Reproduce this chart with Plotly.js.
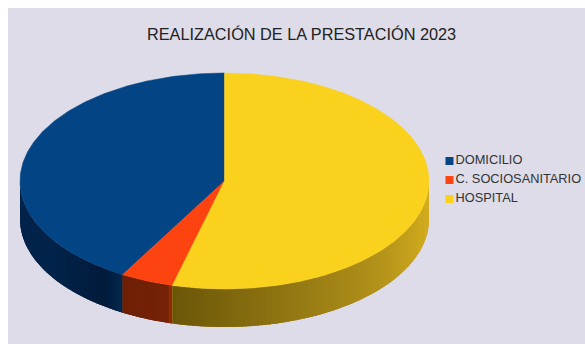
<!DOCTYPE html>
<html>
<head>
<meta charset="utf-8">
<script src="https://cdn.plot.ly/plotly-3.0.1.min.js"></script>
<style>html,body{margin:0;padding:0;background:#fff}</style>
</head>
<body>
<div id="chart" style="width:585px;height:344px"></div>
<script>
// Share of each place of care, in percent
const categories = ["DOMICILIO", "C. SOCIOSANITARIO", "HOSPITAL"];
const shares = [41.7, 4.2, 54.1];
const topColors = ["#024484", "#fd430f", "#fad11d"];
const chartTitle = "REALIZACIÓN DE LA PRESTACIÓN 2023";

// Disc geometry in axis units, which are screen pixels here
const disc = { cx: 224.5, cy: 181, rx: 204.5, ry: 108, depth: 38 };

// Wall shading: colour stops along the sweep angle, for each slice
const wallStops = [
  [[0, "#02244b"], [0.55, "#02234a"], [0.9, "#001b3b"], [1, "#02274e"]],
  [[0, "#6e2004"], [0.9, "#762206"], [1, "#a03008"]],
  [[0, "#6a5608"], [0.25, "#8a7010"], [0.6, "#b3921a"], [1, "#e0b820"]]
];

function hex(c) { return [1, 3, 5].map(i => parseInt(c.slice(i, i + 2), 16)); }
function mix(stops, f) {
  for (let i = 1; i < stops.length; i++) {
    if (f <= stops[i][0]) {
      const k = (f - stops[i - 1][0]) / (stops[i][0] - stops[i - 1][0]);
      const a = hex(stops[i - 1][1]), b = hex(stops[i][1]);
      return "rgb(" + a.map((v, j) => Math.round(v + (b[j] - v) * k)).join(",") + ")";
    }
  }
  return stops[stops.length - 1][1];
}

// Angle runs counter-clockwise from twelve o'clock
const ex = a => disc.cx - disc.rx * Math.sin(a);
const ey = a => disc.cy - disc.ry * Math.cos(a);

const total = shares.reduce((a, b) => a + b, 0);
const traces = [];
let start = 0;
const slices = shares.map(v => {
  const s = { a0: start, a1: start + v / total * 2 * Math.PI };
  start = s.a1;
  return s;
});

// Walls first, visible only across the front half of the ellipse
slices.forEach((s, i) => {
  const from = Math.max(s.a0, Math.PI / 2);
  const to = Math.min(s.a1, 3 * Math.PI / 2);
  if (to <= from) return;
  const n = Math.max(2, Math.ceil((to - from) / 0.02));

  // Solid backing so the shading strips cannot let the background through
  const upperX = [], upperY = [];
  for (let k = 0; k <= n; k++) {
    const a = from + (to - from) * k / n;
    upperX.push(ex(a)); upperY.push(ey(a));
  }
  traces.push({
    type: "scatter", mode: "none", fill: "toself", hoverinfo: "skip", showlegend: false,
    x: upperX.concat(upperX.slice().reverse()),
    y: upperY.concat(upperY.slice().reverse().map(v => v + disc.depth)),
    fillcolor: mix(wallStops[i], 0.5)
  });

  for (let k = 0; k < n; k++) {
    const a = from + (to - from) * k / n;
    const c = Math.min(from + (to - from) * (k + 1.4) / n, to);
    traces.push({
      type: "scatter", mode: "none", fill: "toself", hoverinfo: "skip", showlegend: false,
      x: [ex(a), ex(c), ex(c), ex(a), ex(a)],
      y: [ey(a), ey(c), ey(c) + disc.depth, ey(a) + disc.depth, ey(a)],
      fillcolor: mix(wallStops[i], (k + 0.5) / n)
    });
  }
});

// Top faces
slices.forEach((s, i) => {
  const n = Math.ceil((s.a1 - s.a0) / 0.01);
  const x = [disc.cx], y = [disc.cy];
  for (let k = 0; k <= n; k++) {
    const a = s.a0 + (s.a1 - s.a0) * k / n;
    x.push(ex(a)); y.push(ey(a));
  }
  x.push(disc.cx); y.push(disc.cy);
  traces.push({
    type: "scatter", mode: "lines", fill: "toself", name: categories[i],
    x, y, line: { color: topColors[i], width: 0.5 }, fillcolor: topColors[i],
    showlegend: false, hoverinfo: "name"
  });
});

// Key beside the disc: square swatch with its label on the right
traces.push({
  type: "scatter", mode: "markers+text", hoverinfo: "skip", showlegend: false, cliponaxis: false,
  x: categories.map(() => 449.5), y: [161, 180, 199],
  text: categories, textposition: "middle right",
  textfont: { family: "Liberation Sans, Arial, sans-serif", size: 12.8, color: "#333" },
  marker: { symbol: "square", size: 8, color: topColors }
});

const layout = {
  width: 585, height: 344, showlegend: false,
  margin: { l: 8, r: 0, t: 8, b: 0 },
  paper_bgcolor: "#ffffff", plot_bgcolor: "#dddce8",
  xaxis: { range: [8, 585], visible: false, fixedrange: true },
  yaxis: { range: [344, 8], visible: false, fixedrange: true },
  annotations: [{
    text: chartTitle, xref: "x", yref: "y", x: 301.5, y: 33.5, showarrow: false,
    xanchor: "center", yanchor: "middle",
    font: { family: "Liberation Sans, Arial, sans-serif", size: 16.3, color: "#222" }
  }]
};
Plotly.newPlot("chart", traces, layout, { displayModeBar: false, staticPlot: true });
</script>
</body>
</html>
